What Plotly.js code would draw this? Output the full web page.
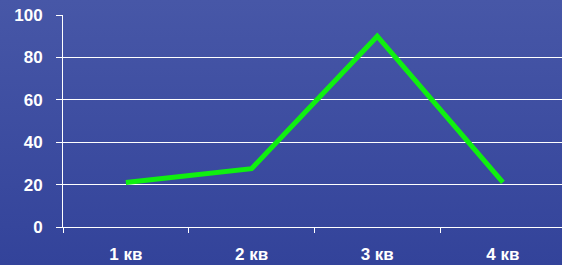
<!DOCTYPE html>
<html>
<head>
<meta charset="utf-8">
<script src="https://cdn.plot.ly/plotly-3.0.1.min.js"></script>
<style>
html,body{margin:0;padding:0;background:#3a4a9c;}
#chart{width:562px;height:265px;}
</style>
</head>
<body>
<div id="chart"></div>
<script>
const categories = ["1 кв", "2 кв", "3 кв", "4 кв"];
const values = [21, 27.5, 90, 21];
const yTicks = [0, 20, 40, 60, 80, 100];

const bgSvg = '<svg xmlns="http://www.w3.org/2000/svg" width="562" height="265">' +
  '<defs><linearGradient id="g" x1="0" y1="0" x2="0" y2="1">' +
  '<stop offset="0" stop-color="#4757a7"/><stop offset="1" stop-color="#33439a"/>' +
  '</linearGradient></defs><rect width="562" height="265" fill="url(#g)"/></svg>';

const trace = {
  x: categories,
  y: values,
  type: "scatter",
  mode: "lines",
  line: {color: "#10f010", width: 5},
  hoverinfo: "skip"
};

const layout = {
  width: 562,
  height: 265,
  margin: {l: 63, r: 0, t: 15, b: 38, pad: 0},
  paper_bgcolor: "#3a4a9c",
  plot_bgcolor: "rgba(0,0,0,0)",
  showlegend: false,
  font: {family: "Liberation Sans, Arial, sans-serif", color: "#ffffff", size: 15},
  images: [{
    source: "data:image/svg+xml;charset=utf-8," + encodeURIComponent(bgSvg),
    xref: "paper", yref: "paper", x: -63/499, y: 1 + 15/212,
    sizex: 562/499, sizey: 265/212, sizing: "stretch",
    xanchor: "left", yanchor: "top", layer: "below"
  }],
  xaxis: {
    type: "category",
    range: [-0.5, 3.47],
    showgrid: false,
    zeroline: false,
    showline: true,
    linecolor: "#ffffff",
    linewidth: 1,
    ticks: "outside",
    tickson: "boundaries",
    ticklen: 5,
    tickcolor: "#ffffff",
    ticklabelstandoff: 12,
    tickfont: {family: "Liberation Sans, Arial, sans-serif", size: 17, color: "#ffffff", weight: "bold"},
    fixedrange: true
  },
  yaxis: {
    range: [0, 100],
    tickvals: yTicks,
    ticktext: yTicks.map(String),
    showgrid: true,
    gridcolor: "#ffffff",
    gridwidth: 1,
    zeroline: false,
    showline: true,
    linecolor: "#ffffff",
    linewidth: 1,
    ticks: "outside",
    ticklen: 6,
    tickcolor: "#ffffff",
    ticklabelstandoff: 10,
    tickfont: {family: "Liberation Sans, Arial, sans-serif", size: 17, color: "#ffffff", weight: "bold"},
    fixedrange: true
  }
};

Plotly.newPlot("chart", [trace], layout, {staticPlot: true, displayModeBar: false});
</script>
</body>
</html>
